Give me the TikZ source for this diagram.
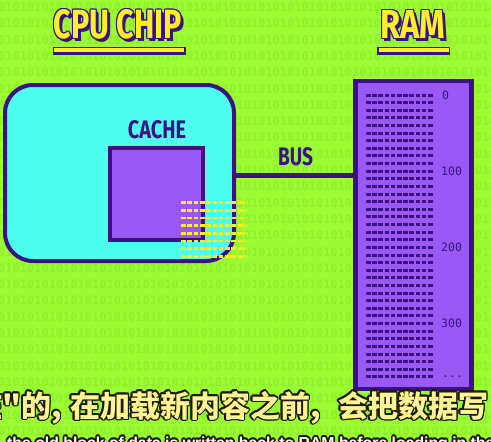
\documentclass[tikz,border=0pt]{standalone}
\usepackage{fontspec}
\usepackage{graphicx}
\setmainfont{Liberation Sans}
\newfontfamily\ttlfont{Fira Sans}
\newfontfamily\cjk{Noto Sans CJK SC}
\newfontfamily\monofnt{DejaVu Sans Mono}
\newfontfamily\engfont{Liberation Sans}
\definecolor{bggreen}{HTML}{9BFC34}
\definecolor{bindigit}{HTML}{8FEF2C}
\definecolor{dkpurple}{HTML}{3A1282}
\definecolor{cyanfill}{HTML}{4EFFEF}
\definecolor{purplefill}{HTML}{9A58F4}
\definecolor{ttyellow}{HTML}{FFEE2A}
\definecolor{subyellow}{HTML}{FFF594}
\definecolor{suboutline}{HTML}{1E1A05}
\definecolor{dashyellow}{HTML}{FFEE22}
\newcommand\shadowtitle[6]{%
  \foreach \dx/\dy in {-1/0,1/0,0/-1,0/1,-1/-1,1/-1,-1/1,1/1,2/2,2/3,3/3}
    \node[inner sep=0pt, text=dkpurple] at (#2+\dx,#3+\dy) {\resizebox{#4pt}{#5pt}{\ttlfont\bfseries #6}};
  \node[inner sep=0pt, text=ttyellow] (#1) at (#2,#3) {\resizebox{#4pt}{#5pt}{\ttlfont\bfseries #6}};
}
\newcommand\olnode[7]{%
  \foreach \a in {0,30,...,330}
    \node[#1, text=#2, xshift={1.6*cos(\a)}, yshift={1.6*sin(\a)}] at (#5,#6) {#7};
  \node[#1, text=#3] (#4) at (#5,#6) {#7};
}
\begin{document}
\begin{tikzpicture}[x=1pt,y=-1pt,
  box/.style={draw=dkpurple, line width=4pt, inner sep=0pt},
  cpubox/.style={box, fill=cyanfill, rounded corners=28pt},
  cachebox/.style={box, fill=purplefill},
  rambox/.style={box, fill=purplefill, line width=4.5pt},
  bus/.style={draw=dkpurple, line width=4.5pt},
  ramrow/.style={draw=dkpurple, line width=3pt, dash pattern=on 4.6pt off 1.6pt},
  yrow/.style={draw=dashyellow, line width=2.8pt, dash pattern=on 4.6pt off 1.7pt},
  addr/.style={font=\monofnt\fontsize{11.5}{11.5}\selectfont, text=dkpurple, anchor=west, inner sep=0pt},
  lbl/.style={text=dkpurple, inner sep=0pt},
  bindig/.style={font=\monofnt\bfseries\fontsize{12}{12}\selectfont, text=bindigit, anchor=west, inner sep=0pt},
  subtcn/.style={font=\cjk\bfseries\fontsize{30}{30}\selectfont, inner sep=0pt, anchor=base west},
  subten/.style={font=\engfont\bfseries\fontsize{15.8}{15.8}\selectfont, inner sep=0pt, anchor=base west}
]
\useasboundingbox (0,0) rectangle (491,442);
\clip (0,0) rectangle (491,442);
\fill[bggreen] (0,0) rectangle (491,442);
% binary background
\foreach \k in {0,...,26}
  \node[bindig] at (-2,7.2+16.3*\k) {010101010101010101010101010101010101010101010101010101010101010101010101};
% CPU chip
\node[cpubox, minimum width=229pt, minimum height=176pt] (cpu) at (119.5,173) {};
\node[cachebox, minimum width=93pt, minimum height=92pt] (cache) at (156.5,194) {};
\node[lbl] (cachelbl) at (157,130) {\resizebox{58pt}{18pt}{\ttlfont\bfseries CACHE}};
% RAM
\node[rambox, minimum width=116pt, minimum height=308pt] (ram) at (413.5,235) {};
% bus
\draw[bus] ([yshift=-2.5pt]cpu.east) -- ([yshift=-2.5pt]cpu.east -| ram.west);
\node[lbl] (buslbl) at (295.5,157) {\resizebox{35pt}{18pt}{\ttlfont\bfseries BUS}};
% RAM rows
\foreach \k in {0,...,37}
  \draw[ramrow] (366,95+7.62*\k) -- (434,95+7.62*\k);
\node[addr] (a0) at (442,95) {0};
\node[addr] (a100) at (441,95+7.62*10) {100};
\node[addr] (a200) at (441,95+7.62*20) {200};
\node[addr] (a300) at (441,95+7.62*30) {300};
\node[addr] (adots) at (442,95+7.62*37) {...};
% yellow data block
\foreach \k in {0,...,7}{
  \draw[yrow] (181,202.7+7.67*\k) -- (241,202.7+7.67*\k);
  \draw[yrow, opacity=0.55] (241,202.7+7.67*\k) -- (248,202.7+7.67*\k);
}
% titles
\shadowtitle{cputitle}{118}{24.5}{128}{29}{CPU CHIP}
\shadowtitle{ramtitle}{412.5}{24}{65}{28}{RAM}
\fill[dkpurple] (52.5,47) rectangle (185.5,54.5);
\fill[ttyellow] (54,48) rectangle (184,52);
\fill[dkpurple] (377,47) rectangle (450,54.5);
\fill[ttyellow] (378.5,48) rectangle (448.5,52);
% subtitles
\olnode{subtcn}{suboutline}{subyellow}{s1}{-28}{417}{脏"的,}
\olnode{subtcn}{suboutline}{subyellow}{s2}{70}{417}{在加载新内容之前,}
\olnode{subtcn}{suboutline}{subyellow}{s3}{338}{417}{会把数据写}
\olnode{subten}{suboutline}{white}{s4}{7}{448}{the old block of data is written back to RAM before loading in the new one}
\end{tikzpicture}
\end{document}
